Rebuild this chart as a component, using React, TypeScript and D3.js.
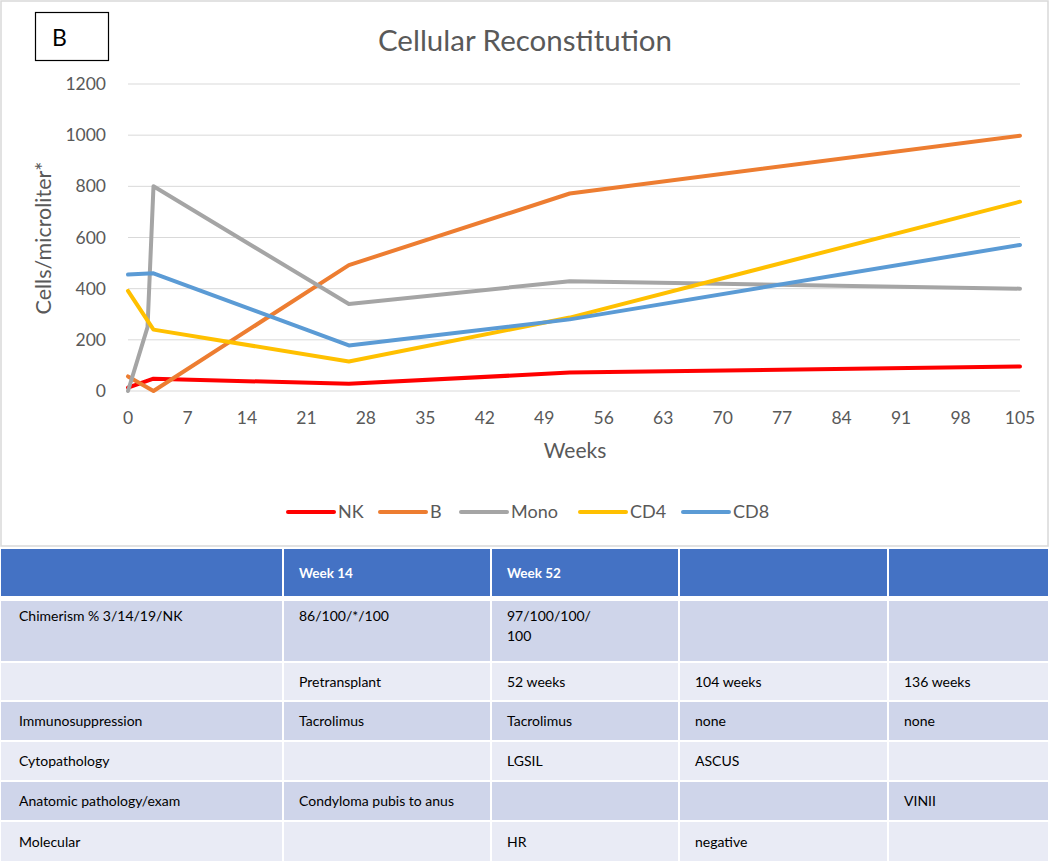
import React, { useRef, useEffect } from 'react';
import * as d3 from 'd3';

const weeks = [0, 2.3, 3, 26, 52, 105];
const seriesNames = ['NK', 'B', 'Mono', 'CD4', 'CD8'];
const seriesColors = ['#FF0000', '#ED7D31', '#A5A5A5', '#FFC000', '#5B9BD5'];
// values per series, null where the series has no point at that week
const nkValues = [13, null, 48, 28, 72, 96];
const bValues = [57, null, 0, 492, 772, 998];
const monoValues = [0, 250, 800, 340, 429, 400];
const cd4Values = [391, null, 240, 115, 287, 740];
const cd8Values = [455, null, 460, 178, 280, 571];
const allValues = [nkValues, bValues, monoValues, cd4Values, cd8Values];
const yTicks = [0, 200, 400, 600, 800, 1000, 1200];
const xTicks = d3.range(0, 106, 7);

const tableHeader = ['', 'Week 14', 'Week 52', '', ''];
const tableRows = [
  ['Chimerism % 3/14/19/NK', '86/100/*/100', '97/100/100/\n100', '', ''],
  ['', 'Pretransplant', '52 weeks', '104 weeks', '136 weeks'],
  ['Immunosuppression', 'Tacrolimus', 'Tacrolimus', 'none', 'none'],
  ['Cytopathology', '', 'LGSIL', 'ASCUS', ''],
  ['Anatomic pathology/exam', 'Condyloma pubis to anus', '', '', 'VINII'],
  ['Molecular', '', 'HR', 'negative', ''],
];

const colEdges = [0, 283, 491, 679, 888, 1049];
const rowEdges = [[601, 661], [663, 700], [702, 740], [742, 780], [782, 820], [822, 861]];

const App = () => {
  const svgRef = useRef(null);

  useEffect(() => {
    const svg = d3.select(svgRef.current);
    svg.selectAll('*').remove();
    const font = 'Lato, "Open Sans", sans-serif';
    const grey = '#595959';

    const x = d3.scaleLinear().domain([0, 105]).range([128, 1020]);
    const y = d3.scaleLinear().domain([0, 1200]).range([391, 84]);

    // chart frame
    svg.append('rect').attr('x', 1).attr('y', 1).attr('width', 1047).attr('height', 545)
      .attr('fill', '#fff').attr('stroke', '#D9D9D9').attr('stroke-width', 1.5);

    // panel letter
    svg.append('rect').attr('x', 35.5).attr('y', 12.5).attr('width', 73).attr('height', 48)
      .attr('fill', '#fff').attr('stroke', '#000').attr('stroke-width', 1.2);
    svg.append('text').attr('x', 52).attr('y', 46).attr('font-family', font)
      .attr('font-size', 23).attr('fill', '#000').text('B');

    svg.append('text').attr('x', 525).attr('y', 51).attr('text-anchor', 'middle')
      .attr('font-family', font).attr('font-size', 29.5).attr('fill', grey)
      .text('Cellular Reconstitution');

    // gridlines
    svg.append('g').selectAll('line').data(yTicks).enter().append('line')
      .attr('x1', x(0)).attr('x2', x(105))
      .attr('y1', d => y(d)).attr('y2', d => y(d))
      .attr('stroke', '#D9D9D9').attr('stroke-width', 1);

    svg.append('g').selectAll('text').data(yTicks).enter().append('text')
      .attr('x', 106).attr('y', d => y(d)).attr('dy', '0.35em').attr('text-anchor', 'end')
      .attr('font-family', font).attr('font-size', 17.5).attr('fill', grey).text(d => d);

    svg.append('g').selectAll('text').data(xTicks).enter().append('text')
      .attr('x', d => x(d)).attr('y', 424).attr('text-anchor', 'middle')
      .attr('font-family', font).attr('font-size', 17.5).attr('fill', grey).text(d => d);

    svg.append('text').attr('x', 575).attr('y', 458).attr('text-anchor', 'middle')
      .attr('font-family', font).attr('font-size', 21).attr('fill', grey).text('Weeks');

    svg.append('text').attr('transform', 'translate(51,238) rotate(-90)').attr('text-anchor', 'middle')
      .attr('font-family', font).attr('font-size', 21.5).attr('fill', grey).text('Cells/microliter*');

    // series lines
    const line = d3.line<any>().defined(d => d.v !== null).x(d => x(d.w)).y(d => y(d.v));
    allValues.forEach((vals, i) => {
      const pts = weeks.map((w, j) => ({ w, v: vals[j] }));
      svg.append('path').datum(pts.filter(p => p.v !== null))
        .attr('d', line).attr('fill', 'none').attr('stroke', seriesColors[i])
        .attr('stroke-width', 4).attr('stroke-linejoin', 'round').attr('stroke-linecap', 'round');
    });

    // legend
    const legendX = [288, 380, 461, 580, 683];
    const lg = svg.append('g');
    seriesNames.forEach((name, i) => {
      lg.append('line').attr('x1', legendX[i]).attr('x2', legendX[i] + 46)
        .attr('y1', 512).attr('y2', 512).attr('stroke', seriesColors[i])
        .attr('stroke-width', 4).attr('stroke-linecap', 'round');
      lg.append('text').attr('x', legendX[i] + 50).attr('y', 512).attr('dy', '0.35em')
        .attr('font-family', font).attr('font-size', 18).attr('fill', grey).text(name);
    });

    // table
    const tbl = svg.append('g');
    const cols = d3.range(5);
    cols.forEach(c => {
      tbl.append('rect').attr('x', colEdges[c] + 1).attr('y', 549)
        .attr('width', colEdges[c + 1] - colEdges[c] - 2).attr('height', 47).attr('fill', '#4472C4');
      if (tableHeader[c]) {
        tbl.append('text').attr('x', colEdges[c] + 16).attr('y', 578)
          .attr('font-family', font).attr('font-size', 13.5).attr('font-weight', 'bold')
          .attr('fill', '#fff').text(tableHeader[c]);
      }
    });
    tableRows.forEach((row, r) => {
      const [y0, y1] = rowEdges[r];
      const fill = r % 2 === 0 ? '#CFD5EA' : '#E9EBF5';
      row.forEach((cell, c) => {
        tbl.append('rect').attr('x', colEdges[c] + 1).attr('y', y0)
          .attr('width', colEdges[c + 1] - colEdges[c] - 2).attr('height', y1 - y0).attr('fill', fill);
        const lines = cell.split('\n');
        const base = r === 0 ? 621 : (y0 + y1) / 2 + 5;
        lines.forEach((t, k) => {
          if (!t) return;
          tbl.append('text').attr('x', colEdges[c] + (c === 0 ? 19 : 16)).attr('y', base + k * 20)
            .attr('font-family', font).attr('font-size', 14).attr('fill', '#000').text(t);
        });
      });
    });
  }, []);

  return (
    <div style={{ position: 'absolute', left: 0, top: 0 }}>
      <svg ref={svgRef} width={1050} height={861} style={{ display: 'block' }}></svg>
    </div>
  );
};

export default App;
